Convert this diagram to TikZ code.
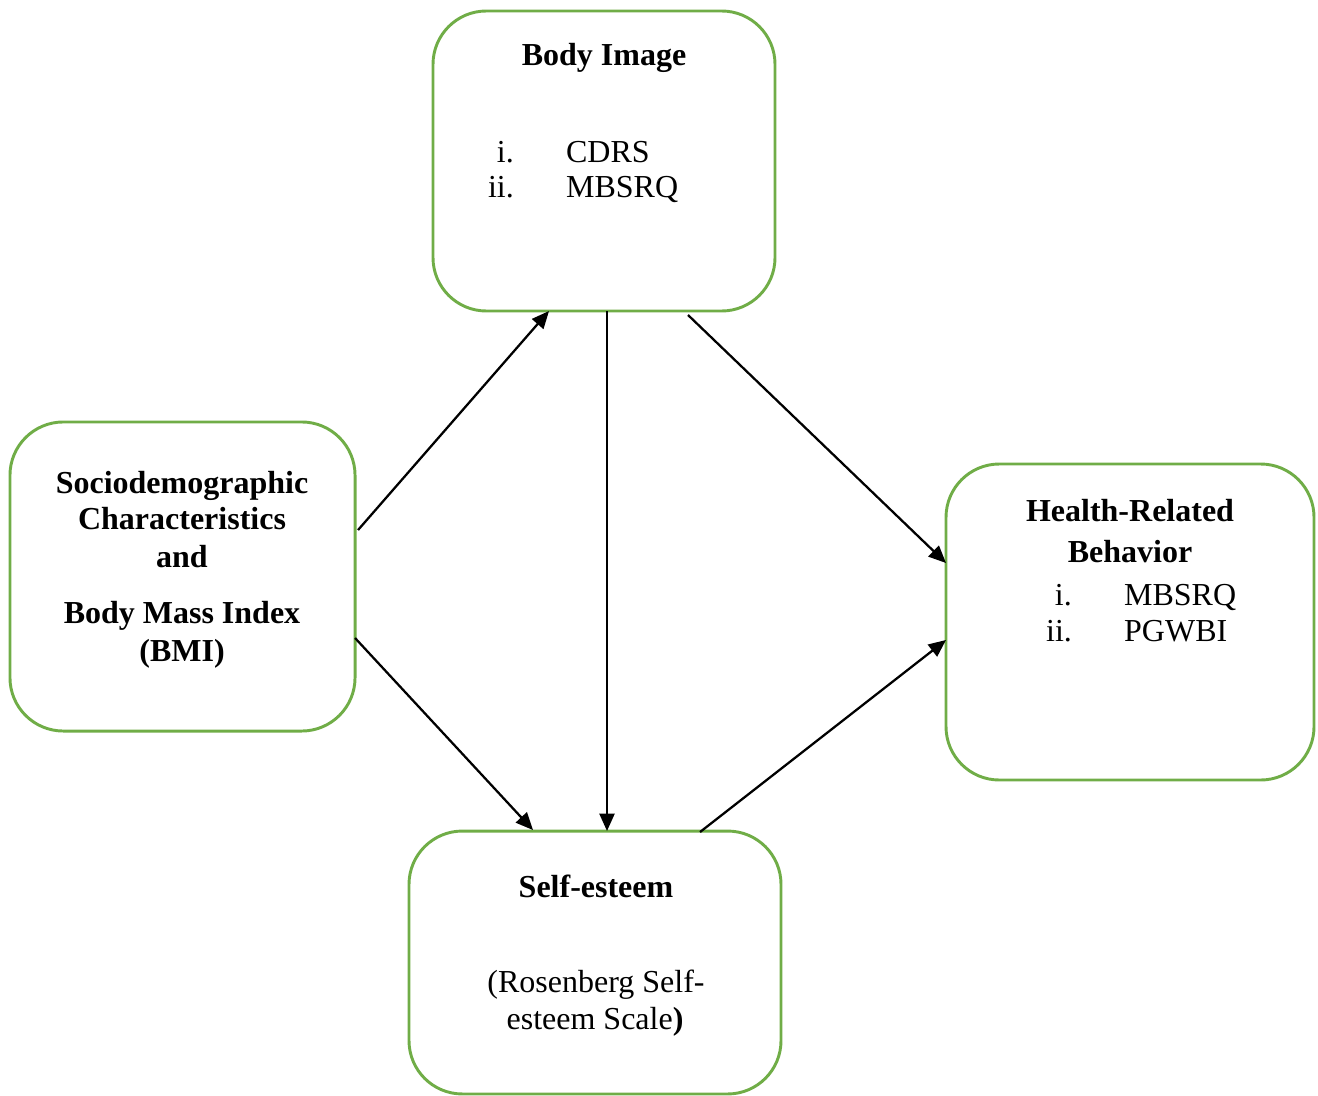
\documentclass[tikz,border=0pt]{standalone}
\usepackage{fontspec}
\setmainfont{Liberation Serif}
\usepackage{xcolor}
\usetikzlibrary{arrows.meta,positioning,calc}
\definecolor{boxgreen}{RGB}{112,173,71}

\begin{document}
\begin{tikzpicture}[->,>={Triangle[length=6.5pt,width=5.6pt]},
x=0.375pt,y=-0.375pt,line width=0.85pt,
font=\fontsize{12}{14}\selectfont]

\tikzstyle{box}=[draw=boxgreen, line width=1.1pt, rounded corners=20pt,
outer sep=0pt, inner sep=0pt]
\tikzstyle{head}=[anchor=base, inner sep=0pt, font=\fontsize{12}{14}\selectfont\bfseries]
\tikzstyle{txt}=[anchor=base, inner sep=0pt]
\tikzstyle{num}=[anchor=base east, inner sep=0pt]
\tikzstyle{item}=[anchor=base west, inner sep=0pt]

\useasboundingbox (0,0) rectangle (1318,1095);

%boxes
\node[box, minimum width=128.25pt, minimum height=112.5pt] (body) at (604,161) {};
\node[box, minimum width=129.4pt, minimum height=115.9pt] (socio) at (182.5,576.5) {};
\node[box, minimum width=138pt, minimum height=118.5pt] (health) at (1130,622) {};
\node[box, minimum width=139.5pt, minimum height=98.6pt] (self) at (595,962.5) {};

%body image
\node[head] (bodyT) at (604,66) {Body Image};
\node[num] (bodyN1) at (515,162) {i.};
\node[item] (bodyI1) at (565,162) {CDRS};
\node[num] (bodyN2) at (515,197) {ii.};
\node[item] (bodyI2) at (565,197) {MBSRQ};

%sociodemographic
\node[head] (socioT1) at (182,493) {Sociodemographic};
\node[head] (socioT2) at (182,529) {Characteristics};
\node[head] (socioT3) at (182,567) {and};
\node[head] (socioT4) at (182,623) {Body Mass Index};
\node[head] (socioT5) at (182,661) {(BMI)};

%health related behavior
\node[head] (healthT1) at (1130,521) {Health-Related};
\node[head] (healthT2) at (1130,562) {Behavior};
\node[num] (healthN1) at (1073,605) {i.};
\node[item] (healthI1) at (1123,605) {MBSRQ};
\node[num] (healthN2) at (1073,641) {ii.};
\node[item] (healthI2) at (1123,641) {PGWBI};

%self-esteem
\node[head] (selfT) at (596,897) {Self-esteem};
\node[txt] (selfS1) at (596,992) {(Rosenberg Self-};
\node[txt] (selfS2) at (595,1029) {esteem Scale\textbf{)}};

%paths
\draw ($(socio.east)+(3,-46.5)$) -- ($(body.south)+(-55,0)$);
\draw ($(socio.east)+(0,61.5)$) -- ($(self.north)+(-62,-1)$);
\draw ($(body.south)+(3,0)$) -- ($(self.north)+(12,0)$);
\draw ($(body.south)+(84,4)$) -- ($(health.west)+(0,-59)$);
\draw ($(self.north)+(105,1)$) -- ($(health.west)+(0,18)$);

\end{tikzpicture}
\end{document}
